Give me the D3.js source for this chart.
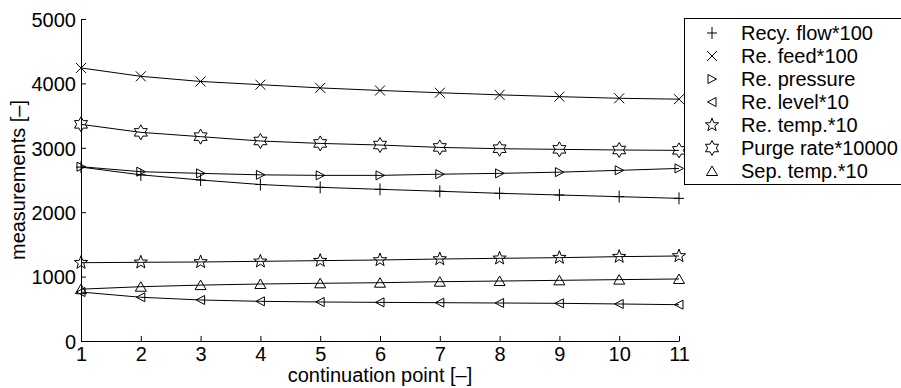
<!DOCTYPE html>
<html>
<head>
<meta charset="utf-8">
<script src="https://cdn.jsdelivr.net/npm/d3@7"></script>
<style>
  body { margin: 0; background: #fff; }
  svg { display: block; font-family: "Liberation Sans", Arial, sans-serif; }
</style>
</head>
<body>
<svg id="chart" width="901" height="388"></svg>
<script>
// continuation points and series values
const points = [1, 2, 3, 4, 5, 6, 7, 8, 9, 10, 11];
const recyFlow = [2700, 2580, 2500, 2430, 2386, 2355, 2325, 2293, 2267, 2241, 2215];
const reFeed = [4240, 4110, 4030, 3980, 3930, 3890, 3855, 3822, 3794, 3769, 3755];
const rePressure = [2706, 2629, 2603, 2580, 2572, 2572, 2590, 2603, 2622, 2650, 2680];
const reLevel = [760, 679, 637, 616, 606, 600, 595, 590, 585, 575, 564];
const reTemp = [1216, 1222, 1227, 1237, 1248, 1258, 1273, 1284, 1294, 1310, 1320];
const purgeRate = [3364, 3240, 3173, 3106, 3068, 3043, 3006, 2986, 2976, 2966, 2960];
const sepTemp = [805, 843, 868, 885, 896, 905, 921, 931, 942, 953, 963];

const seriesNames = ['Recy. flow*100', 'Re. feed*100', 'Re. pressure', 'Re. level*10',
  'Re. temp.*10', 'Purge rate*10000', 'Sep. temp.*10'];
const seriesValues = [recyFlow, reFeed, rePressure, reLevel, reTemp, purgeRate, sepTemp];
const markerKinds = ['plus', 'cross', 'triRight', 'triLeft', 'star5', 'star6', 'triUp'];

const yTicks = [0, 1000, 2000, 3000, 4000, 5000];

const svg = d3.select('#chart');
const margin = { left: 81, right: 222, top: 19, bottom: 47 };
const width = 901, height = 388;
const fontSize = '20px';

const x = d3.scaleLinear().domain([1, 11]).range([margin.left, width - margin.right]);
const y = d3.scaleLinear().domain([0, 5000]).range([height - margin.bottom, margin.top]);

// marker path generators, centred on 0,0
function starPath(n, ro, ri) {
  const pts = [];
  for (let i = 0; i < 2 * n; i++) {
    const a = -Math.PI / 2 + i * Math.PI / n;
    const r = i % 2 === 0 ? ro : ri;
    pts.push([r * Math.cos(a), r * Math.sin(a)]);
  }
  return 'M' + pts.map(p => p[0].toFixed(2) + ',' + p[1].toFixed(2)).join('L') + 'Z';
}
const markerPath = {
  plus: 'M-5,0H5M0,-6V6',
  cross: 'M-5,-5L5,5M-5,5L5,-5',
  triRight: 'M-4,-4.5L4.5,0L-4,4.5Z',
  triLeft: 'M4,-4.5L-4.5,0L4,4.5Z',
  triUp: 'M0,-5L5.5,4.5L-5.5,4.5Z',
  star5: starPath(5, 7, 2.9),
  star6: starPath(6, 7.5, 4.3)
};

// axes
const xAxis = d3.axisBottom(x).tickValues(points).tickFormat(d3.format('d'))
  .tickSizeInner(-5).tickSizeOuter(0).tickPadding(8);
const yAxis = d3.axisLeft(y).tickValues(yTicks).tickFormat(d3.format('d'))
  .tickSizeInner(-5).tickSizeOuter(0).tickPadding(5);

const gx = svg.append('g')
  .attr('transform', `translate(0,${y(0)})`)
  .call(xAxis);
const gy = svg.append('g')
  .attr('transform', `translate(${x(1)},0)`)
  .call(yAxis);

[gx, gy].forEach(g => {
  g.selectAll('path, line').attr('stroke', '#000').attr('stroke-width', 1);
  g.selectAll('text').attr('fill', '#000').style('font-size', fontSize)
    .style('font-family', '"Liberation Sans", Arial, sans-serif');
});
gx.selectAll('text').attr('dy', '0.62em');
gy.selectAll('text').attr('dy', '0.36em');

// axis titles
svg.append('text')
  .attr('x', (x(1) + x(11)) / 2)
  .attr('y', 382)
  .attr('text-anchor', 'middle')
  .style('font-size', fontSize)
  .text('continuation point [–]');

svg.append('text')
  .attr('transform', `translate(25,${(y(0) + y(5000)) / 2}) rotate(-90)`)
  .attr('text-anchor', 'middle')
  .style('font-size', fontSize)
  .text('measurements [–]');

// lines
const line = d3.line()
  .x((d, i) => x(points[i]))
  .y(d => y(d));

const seriesGroup = svg.append('g').attr('class', 'series');
seriesValues.forEach((vals, s) => {
  seriesGroup.append('path')
    .datum(vals)
    .attr('d', line)
    .attr('fill', 'none')
    .attr('stroke', '#000')
    .attr('stroke-width', 1);

  seriesGroup.selectAll(null)
    .data(vals)
    .enter()
    .append('path')
    .attr('transform', (d, i) => `translate(${x(points[i])},${y(d)})`)
    .attr('d', markerPath[markerKinds[s]])
    .attr('fill', 'none')
    .attr('stroke', '#000')
    .attr('stroke-width', 1);
});

// legend
const legend = svg.append('g').attr('class', 'legend');
legend.append('rect')
  .attr('x', 684.5)
  .attr('y', 18.5)
  .attr('width', 240)
  .attr('height', 166)
  .attr('fill', '#fff')
  .attr('stroke', '#000')
  .attr('stroke-width', 1);

seriesNames.forEach((name, i) => {
  const cy = 33 + i * 23;
  legend.append('path')
    .attr('transform', `translate(712,${cy})`)
    .attr('d', markerPath[markerKinds[i]])
    .attr('fill', 'none')
    .attr('stroke', '#000')
    .attr('stroke-width', 1);
  legend.append('text')
    .attr('x', 741)
    .attr('y', cy)
    .attr('dy', '0.36em')
    .style('font-size', fontSize)
    .text(name);
});
</script>
</body>
</html>
